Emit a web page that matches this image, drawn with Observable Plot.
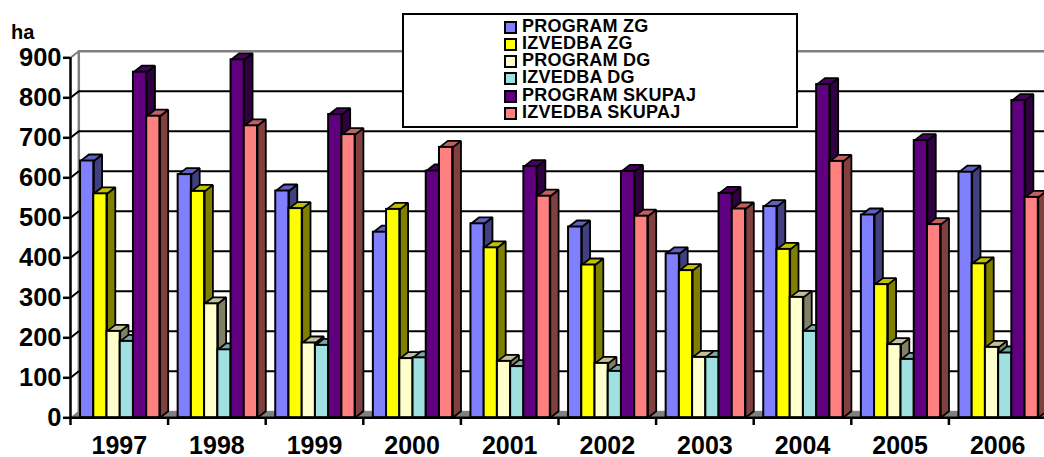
<!DOCTYPE html>
<html>
<head>
<meta charset="utf-8">
<script src="https://cdn.jsdelivr.net/npm/d3@7"></script>
<script src="https://cdn.jsdelivr.net/npm/@observablehq/plot@0.6"></script>
<style>
html,body{margin:0;padding:0;background:#fff;}
#wrap{position:relative;width:1044px;height:457px;overflow:hidden;font-family:"Liberation Sans",Arial,sans-serif;font-weight:bold;color:#000;}
#ha{position:absolute;left:11px;top:22px;font-size:20px;line-height:20px;}
#legend{position:absolute;left:402px;top:13px;width:392px;height:111px;background:#fff;border:2px solid #000;}
.row{position:absolute;left:100px;height:17px;line-height:17px;font-size:18px;white-space:nowrap;}
.sw{position:absolute;left:0;top:2px;width:9px;height:9px;border:2px solid #000;}
.lb{position:absolute;left:18px;top:-1px;letter-spacing:0.25px;}
</style>
</head>
<body>
<div id="wrap"></div>
<script>
const years = [1997,1998,1999,2000,2001,2002,2003,2004,2005,2006];
const programZG = [642,608,567,464,485,477,410,528,507,614];
const izvedbaZG = [560,566,523,521,425,382,368,421,333,385];
const programDG = [216,285,187,148,141,136,151,301,183,176];
const izvedbaDG = [191,170,181,150,128,116,151,216,146,162];
const programSK = [864,895,758,617,628,616,561,833,693,793];
const izvedbaSK = [754,730,708,676,554,504,522,641,483,551];
const seriesNames = ["PROGRAM ZG","IZVEDBA ZG","PROGRAM DG","IZVEDBA DG","PROGRAM SKUPAJ","IZVEDBA SKUPAJ"];
const seriesValues = [programZG,izvedbaZG,programDG,izvedbaDG,programSK,izvedbaSK];
const frontColors = ["#8080ff","#ffff00","#ffffcc","#a0e0e0","#600080","#ff8080"];
const sideColors  = ["#404080","#808000","#808066","#507070","#300040","#804040"];
const topColors   = ["#6060c0","#c0c000","#c0c099","#78a8a8","#480060","#c06060"];
const yTicks = d3.range(0,901,100);

// chart geometry expressed in scale units
const barW = 0.1355, groupStart = 0.103, depthX = 0.085, depthY = 16.25;

const fronts = [], faces = [];
years.forEach((yr,i)=>{
  seriesValues.forEach((vals,s)=>{
    const v = vals[i], x1 = i+groupStart+s*barW, x2 = x1+barW;
    fronts.push({x1,x2,v,fill:frontColors[s],year:yr,series:seriesNames[s]});
    const add=(id,fill,pts)=>pts.forEach(p=>faces.push({id,fill,x:p[0],y:p[1]}));
    add(`s${i}-${s}`,sideColors[s],[[x2,0],[x2,v],[x2+depthX,v+depthY],[x2+depthX,depthY],[x2,0]]);
    add(`t${i}-${s}`,topColors[s],[[x1,v],[x2,v],[x2+depthX,v+depthY],[x1+depthX,v+depthY],[x1,v]]);
  });
});

const floor = [[0,0],[10.2,0],[10.2,depthY],[depthX,depthY],[0,0]].map(p=>({x:p[0],y:p[1]}));
const wall = [[depthX,depthY],[depthX,900+depthY],[10.2,900+depthY]].map(p=>({x:p[0],y:p[1]}));
const wallTop = [[0,900],[depthX,900+depthY]].map(p=>({x:p[0],y:p[1]}));
const grid = [];
yTicks.filter(t=>t>0&&t<900).forEach(t=>{
  grid.push({t,x:0,y:t},{t,x:depthX,y:t+depthY},{t,x:10.2,y:t+depthY});
});

const chart = Plot.plot({
  width:1044,height:457,
  marginLeft:70,marginRight:0,marginTop:0,marginBottom:40,
  style:{fontFamily:'"Liberation Sans",Arial,sans-serif',fontWeight:"bold",color:"#000",background:"transparent"},
  x:{type:"linear",domain:[0,10],range:[70,1046],label:null},
  y:{type:"linear",domain:[0,900],range:[417.3,57.3],label:null},
  marks:[
    Plot.line(floor,{x:"x",y:"y",fill:"#808080",stroke:"#808080",strokeWidth:1}),
    Plot.line(wallTop,{x:"x",y:"y",stroke:"#808080",strokeWidth:2}),
    Plot.line(wall,{x:"x",y:"y",stroke:"#808080",strokeWidth:2.5}),
    Plot.line(grid,{x:"x",y:"y",z:"t",stroke:"#000",strokeWidth:2,curve:"linear"}),
    Plot.line(faces,{x:"x",y:"y",z:"id",fill:"fill",stroke:"#000",strokeWidth:1.8,strokeLinejoin:"miter"}),
    Plot.rectY(fronts,{x1:"x1",x2:"x2",y1:0,y2:"v",fill:"fill",stroke:"#000",strokeWidth:2}),
    Plot.ruleY([0],{x1:0,x2:10.2,stroke:"#000",strokeWidth:2.5}),
    Plot.ruleX([0],{y1:0,y2:900,stroke:"#000",strokeWidth:2.5}),
    Plot.axisY({ticks:yTicks,tickSize:7,tickPadding:2,fontSize:25.5,strokeWidth:2.5,tickFormat:d=>String(d),label:null}),
    Plot.axisX({ticks:d3.range(0,11),tickSize:8,strokeWidth:2.5,tickFormat:()=>"",label:null}),
    Plot.axisX({ticks:years.map((_,i)=>i+0.5),tickSize:0,tickPadding:19,fontSize:25,tickFormat:d=>String(years[Math.floor(d)]),label:null})
  ]
});
const wrap = document.getElementById("wrap");
wrap.appendChild(chart);

const ha = document.createElement("div");
ha.id="ha"; ha.textContent="ha"; wrap.appendChild(ha);

const lg = document.createElement("div");
lg.id="legend";
seriesNames.forEach((n,i)=>{
  const r=document.createElement("div"); r.className="row"; r.style.top=(3.5+i*17.33)+"px";
  const s=document.createElement("span"); s.className="sw"; s.style.background=frontColors[i];
  const l=document.createElement("span"); l.className="lb"; l.textContent=n;
  r.append(s,l); lg.appendChild(r);
});
wrap.appendChild(lg);
</script>
</body>
</html>
